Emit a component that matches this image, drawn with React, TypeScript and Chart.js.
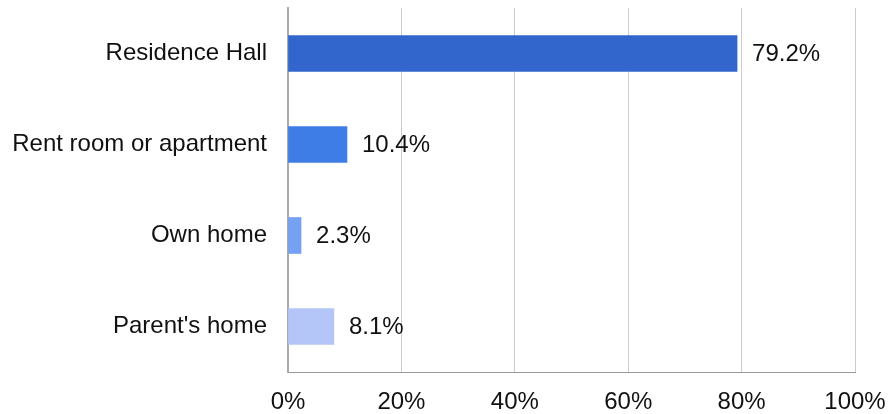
import React, { useEffect, useRef } from "react";
import { Chart, registerables } from "chart.js";

Chart.register(...registerables);

const categories = ["Residence Hall", "Rent room or apartment", "Own home", "Parent's home"];
const values = [79.2, 10.4, 2.3, 8.1];
const barColors = ["#3366cc", "#3e7de6", "#76a0f2", "#b4c6f7"];
const xTicks = [0, 20, 40, 60, 80, 100];

const FONT = "'Liberation Sans', Arial, sans-serif";
const TEXT = "#111111";

const labelPlugin = {
  id: "barLabels",
  afterDatasetsDraw(chart: any) {
    const ctx = chart.ctx;
    const meta = chart.getDatasetMeta(0);
    ctx.save();
    ctx.font = `24px ${FONT}`;
    ctx.fillStyle = TEXT;
    ctx.textAlign = "left";
    ctx.textBaseline = "middle";
    meta.data.forEach((bar: any, i: number) => {
      ctx.fillText(values[i].toFixed(1) + "%", bar.x + 15, bar.y + 1);
    });
    ctx.restore();
  },
};

export default function App() {
  const ref = useRef<HTMLCanvasElement>(null);
  useEffect(() => {
    if (!ref.current) return;
    const chart = new Chart(ref.current, {
      type: "bar",
      data: {
        labels: categories,
        datasets: [
          {
            data: values,
            backgroundColor: barColors,
            barThickness: 36,
            borderWidth: 0,
          },
        ],
      },
      options: {
        indexAxis: "y",
        animation: false,
        responsive: false,
        maintainAspectRatio: false,
        layout: { padding: { top: 8, right: 40, left: 0, bottom: 0 } },
        plugins: { legend: { display: false }, tooltip: { enabled: false } },
        scales: {
          x: {
            min: 0,
            max: 100,
            afterBuildTicks: (scale: any) => {
              scale.ticks = xTicks.map((v) => ({ value: v }));
            },
            afterFit: (scale: any) => {
              scale.height = 42;
              scale.paddingLeft = 0;
              scale.paddingRight = 0;
            },
            grid: {
              color: (c: any) => (c.index === 0 ? "rgba(0,0,0,0)" : "#cccccc"),
              lineWidth: 1,
              drawTicks: false,
            },
            border: { display: true, color: "#999999", width: 1 },
            ticks: {
              padding: 16,
              color: TEXT,
              font: { family: FONT, size: 24 },
              callback: (v: any) => v + "%",
              maxRotation: 0,
            },
          },
          y: {
            afterFit: (scale: any) => {
              scale.width = 288;
              scale.paddingTop = 0;
              scale.paddingBottom = 0;
            },
            grid: { display: false, drawTicks: false },
            border: { display: true, color: "#aaaaaa", width: 2 },
            ticks: {
              padding: 21,
              color: TEXT,
              font: { family: FONT, size: 24 },
            },
          },
        },
      },
      plugins: [labelPlugin],
    });
    return () => chart.destroy();
  }, []);
  return (
    <div style={{ position: "fixed", left: 0, top: 0, width: 895, height: 414, background: "#fff" }}>
      <canvas ref={ref} width={895} height={414} style={{ width: 895, height: 414 }} />
    </div>
  );
}
